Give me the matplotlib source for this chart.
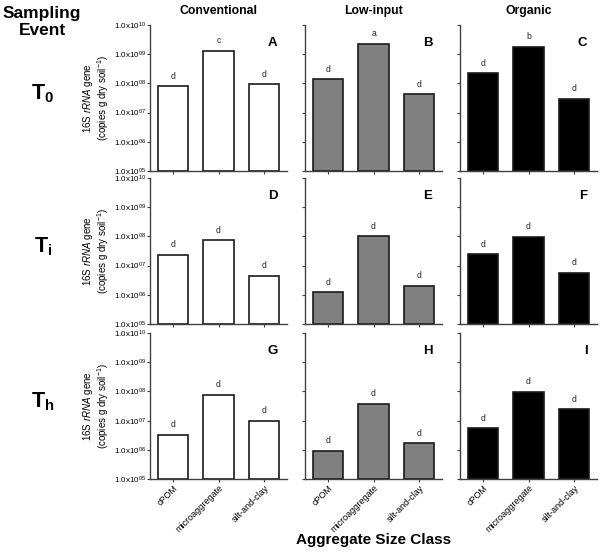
import numpy as np
import matplotlib
matplotlib.use("Agg")
import matplotlib.pyplot as plt

plt.rcParams['font.family'] = ['Liberation Sans', 'DejaVu Sans']
plt.rcParams['mathtext.fontset'] = 'custom'
plt.rcParams['mathtext.rm'] = 'Liberation Sans'
plt.rcParams['mathtext.it'] = 'Liberation Sans:italic'
plt.rcParams['mathtext.bf'] = 'Liberation Sans:bold'

categories = ['cPOM', 'microaggregate', 'silt-and-clay']
systems = ['Conventional', 'Low-input', 'Organic']
events = [r'$\mathbf{T}_\mathbf{0}$', r'$\mathbf{T}_\mathbf{i}$', r'$\mathbf{T}_\mathbf{h}$']
panel_letters = [['A', 'B', 'C'], ['D', 'E', 'F'], ['G', 'H', 'I']]

# values[row][col] -> three bars
t0_values = [[8.0e7, 1.3e9, 9.3e7], [1.4e8, 2.3e9, 4.3e7], [2.2e8, 1.8e9, 3.0e7]]
ti_values = [[2.3e7, 7.4e7, 4.5e6], [1.2e6, 1.0e8, 2.0e6], [2.4e7, 9.8e7, 5.7e6]]
th_values = [[3.2e6, 7.6e7, 9.8e6], [9.2e5, 3.7e7, 1.7e6], [5.5e6, 9.8e7, 2.4e7]]
values = [t0_values, ti_values, th_values]

t0_sig = [['d', 'c', 'd'], ['d', 'a', 'd'], ['d', 'b', 'd']]
ti_sig = [['d', 'd', 'd'], ['d', 'd', 'd'], ['d', 'd', 'd']]
th_sig = [['d', 'd', 'd'], ['d', 'd', 'd'], ['d', 'd', 'd']]
sig = [t0_sig, ti_sig, th_sig]

ytick_vals = [1e5, 1e6, 1e7, 1e8, 1e9, 1e10]
ytick_labels = [r'1.0x10$^{\mathrm{05}}$', r'1.0x10$^{\mathrm{06}}$', r'1.0x10$^{\mathrm{07}}$',
                r'1.0x10$^{\mathrm{08}}$', r'1.0x10$^{\mathrm{09}}$', r'1.0x10$^{\mathrm{10}}$']

colors = ['white', '#808080', 'black']

W, H = 602, 552
fig = plt.figure(figsize=(W / 100, H / 100), dpi=100)

col_left = [150, 305, 460]
col_w = 137
row_top = [25, 178, 333]
row_h = 146

spine_c = '#404040'
x = np.arange(3)
for r in range(3):
    for c in range(3):
        ax = fig.add_axes([col_left[c] / W, 1 - (row_top[r] + row_h) / H, col_w / W, row_h / H])
        vals = np.array(values[r][c])
        ax.set_yscale('log')
        ax.bar(x, vals - 1e5, bottom=1e5, width=0.67, color=colors[c],
               edgecolor='#1a1a1a', linewidth=1.2, zorder=2)
        ax.set_ylim(1e5, 1e10)
        ax.set_xlim(-0.5, 2.5)
        ax.minorticks_off()
        ax.set_yticks(ytick_vals)
        if c == 0:
            ax.set_yticklabels(ytick_labels, fontsize=5.8)
        else:
            ax.set_yticklabels([])
        ax.set_xticks(x)
        if r == 2:
            ax.set_xticklabels(categories, rotation=45, ha='right', rotation_mode='anchor',
                               fontsize=6.5)
        else:
            ax.set_xticklabels([])
        for s in ['top', 'right']:
            ax.spines[s].set_visible(False)
        for s in ['left', 'bottom']:
            ax.spines[s].set_color(spine_c)
            ax.spines[s].set_linewidth(1.0)
        ax.tick_params(axis='both', length=2, width=0.8, color=spine_c, pad=1)
        for i, v in enumerate(vals):
            ax.annotate(sig[r][c][i], (x[i], v), xytext=(0, 4), textcoords='offset points',
                        ha='center', va='bottom', fontsize=6.2, color='#222222')
        ax.text(0.93, 0.92, panel_letters[r][c], transform=ax.transAxes, ha='right', va='top',
                fontsize=9.5, fontweight='bold')
        if r == 0:
            ax.text(0.5, 1 + 14 / row_h, systems[c], transform=ax.transAxes, ha='center',
                    va='center', fontsize=8.8, fontweight='bold')
        if c == 0:
            yc = 1 - (row_top[r] + row_h / 2) / H
            fig.text(96 / W, yc, '16S $\\mathit{rRNA}$ gene\n(copies g dry soil$^{-1}$)',
                     rotation=90, ha='center', va='center', fontsize=7, linespacing=1.1)
            fig.text(43 / W, yc + 4 / H, events[r], ha='center', va='center', fontsize=15.5)

fig.text(42 / W, 1 - 22 / H, 'Sampling\nEvent', ha='center', va='center', fontsize=12.5,
         fontweight='bold', linespacing=1.15)
fig.text(374 / W, 1 - 540 / H, 'Aggregate Size Class', ha='center', va='center', fontsize=11,
         fontweight='bold')

fig.savefig('out.png', dpi=100)
